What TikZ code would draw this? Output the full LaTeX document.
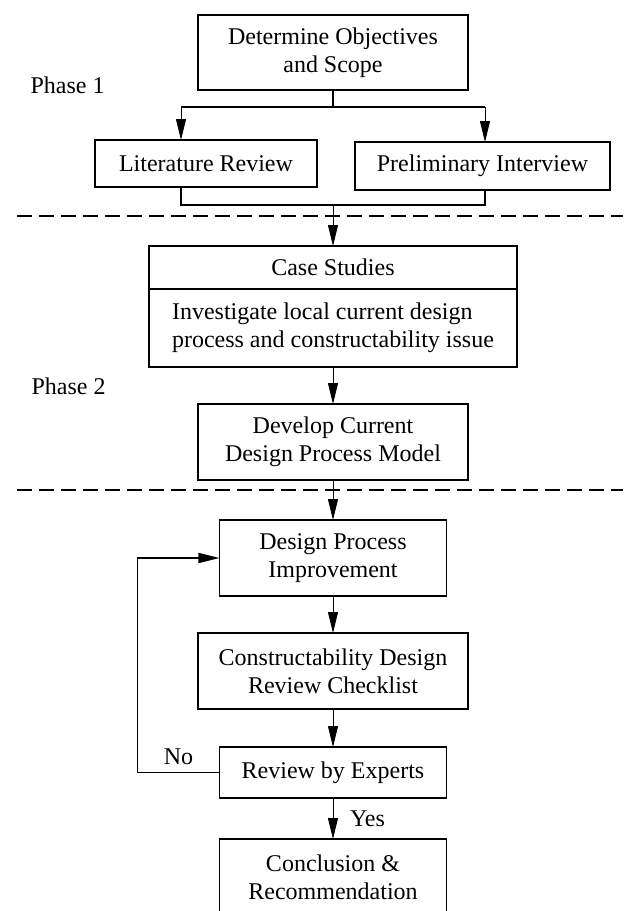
\documentclass[tikz,border=0pt]{standalone}
\usepackage{fontspec}
\setmainfont{Liberation Serif}
\usepackage{tikz}
\usetikzlibrary{arrows.meta, positioning, calc}
\tikzset{
    stage/.style={
        rectangle,
        draw=black,
        line width=0.8pt,
        outer sep=0pt,
        minimum height=38pt,
        align=center,
        inner sep=2pt
    },
    flow/.style={
        draw=black,
        line width=0.4pt,
        -{Triangle[length=10.5pt,width=5pt]}
    },
    link/.style={
        draw=black,
        line width=0.8pt
    },
    feedback/.style={
        draw=black,
        line width=0.8pt,
        -{Triangle[length=10.5pt,width=5pt]}
    },
    phaseline/.style={
        draw=black,
        line width=1pt,
        dash pattern=on 7.5pt off 3.5pt
    },
    phase/.style={
        inner sep=0pt
    }
}

\begin{document}
\begin{tikzpicture}[font=\fontsize{12}{13.8}\selectfont, node distance=20pt]

\useasboundingbox (-166.5pt,26.25pt) rectangle (145pt,-429.25pt);

% Phase 1
\node[stage, minimum width=135pt, minimum height=37.5pt] (objectives) at (0,0) {Determine Objectives\\and Scope};
\node[stage, minimum width=111pt, minimum height=23.5pt, below=25pt of objectives, xshift=-63.5pt] (literature) {Literature Review};
\node[stage, minimum width=127.5pt, minimum height=24pt, below=26pt of objectives, xshift=74.75pt] (interview) {Preliminary Interview};

\node[phase, left=46.5pt of objectives, yshift=-16.25pt] (phase1) {Phase 1};

\coordinate[below=8.5pt of objectives] (split);
\coordinate[left=76pt of split] (splitL);
\coordinate[right=76pt of split] (splitR);

\draw[link] (objectives.south) -- (split);
\draw[link] (splitL) -- (splitR);
\draw[flow] (splitL) -- (splitL |- literature.north);
\draw[flow] (splitR) -- (splitR |- interview.north);

% Phase 2
\node[stage, minimum width=184pt, minimum height=21.5pt, below=78pt of objectives] (casehead) {Case Studies};
\node[stage, minimum width=184pt, minimum height=39pt, below=0pt of casehead, align=left] (casebody) {Investigate local current design\\process and constructability issue};
\node[stage, minimum width=135pt, below=18.5pt of casebody] (develop) {Develop Current\\Design Process Model};

\node[phase, left=46pt of develop, yshift=28pt] (phase2) {Phase 2};

\coordinate[above=20.5pt of casehead] (join);
\coordinate[left=76pt of join] (joinL);
\coordinate[right=76pt of join] (joinR);

\draw[link] (literature.south -| joinL) -- (joinL) -- (joinR) -- (interview.south -| joinR);
\draw[flow] (join) -- (casehead);
\draw[flow] (casebody) -- (develop);

% Phase 3
\node[stage, minimum width=113.5pt, below=20pt of develop] (improve) {Design Process\\Improvement};
\node[stage, minimum width=135pt, below=18.5pt of improve] (checklist) {Constructability Design\\Review Checklist};
\node[stage, minimum width=113.5pt, minimum height=25.5pt, below=19pt of checklist] (review) {Review by Experts};
\node[stage, minimum width=113.5pt, below=20.5pt of review] (conclusion) {Conclusion \&\\Recommendation};

\draw[flow] (develop) -- (improve);
\draw[flow] (improve) -- (checklist);
\draw[flow] (checklist) -- (review);
\draw[flow] (review) -- node[right=5pt] {Yes} (conclusion);
\draw[feedback] (review.west) -- node[above] {No} ++(-41pt,0) |- (improve.west);

% Phase separators
\coordinate (edgeL) at (-157.85pt,0);
\coordinate (edgeR) at (145pt,0);
\coordinate[above=15pt of casehead] (cut1);
\coordinate[above=15pt of improve] (cut2);
\draw[phaseline] (cut1 -| edgeL) -- (cut1 -| edgeR);
\draw[phaseline] (cut2 -| edgeL) -- (cut2 -| edgeR);

\end{tikzpicture}
\end{document}
